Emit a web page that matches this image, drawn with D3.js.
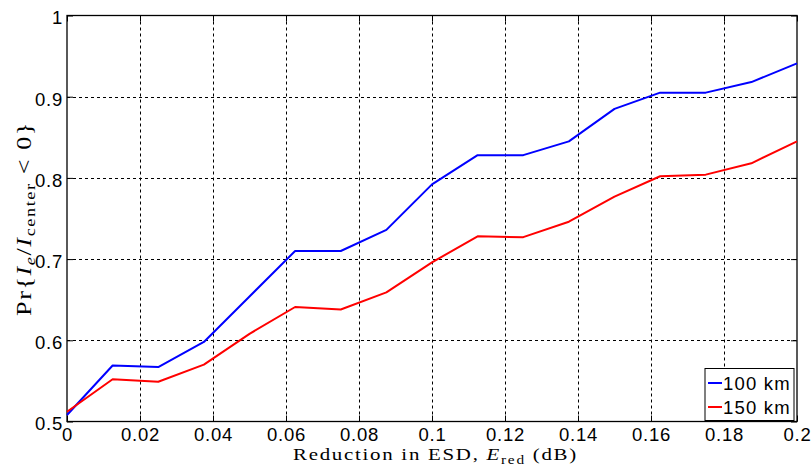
<!DOCTYPE html>
<html><head><meta charset="utf-8">
<script src="https://cdn.jsdelivr.net/npm/d3@7"></script>
<style>body{margin:0;background:#fff;} svg{display:block;}</style>
</head><body>
<svg id="c" width="812" height="470"></svg>
<script>
const xValues = [0, 0.0125, 0.025, 0.0375, 0.05, 0.0625, 0.075, 0.0875, 0.1, 0.1125, 0.125, 0.1375, 0.15, 0.1625, 0.175, 0.1875, 0.2];
const series100 = [0.508, 0.569, 0.567, 0.598, 0.654, 0.710, 0.710, 0.736, 0.792, 0.828, 0.828, 0.845, 0.885, 0.905, 0.905, 0.918, 0.941];
const series150 = [0.512, 0.552, 0.549, 0.570, 0.608, 0.641, 0.638, 0.659, 0.696, 0.728, 0.727, 0.746, 0.777, 0.802, 0.804, 0.818, 0.845];
const seriesNames = ["100 km", "150 km"];
const seriesColors = ["#0000ff", "#ff0000"];
const xTicks = [0, 0.02, 0.04, 0.06, 0.08, 0.1, 0.12, 0.14, 0.16, 0.18, 0.2];
const xTickLabels = ["0", "0.02", "0.04", "0.06", "0.08", "0.1", "0.12", "0.14", "0.16", "0.18", "0.2"];
const yTicks = [0.5, 0.6, 0.7, 0.8, 0.9, 1];
const yTickLabels = ["0.5", "0.6", "0.7", "0.8", "0.9", "1"];

const svg = d3.select("#c");
const L = 67, R = 797, T = 15.5, B = 421.5;
const x = d3.scaleLinear().domain([0, 0.2]).range([L, R]);
const y = d3.scaleLinear().domain([0.5, 1]).range([B, T]);
const tickFont = "Liberation Sans, Arial, sans-serif";
const serif = "Liberation Serif, DejaVu Serif, serif";
const tickSize = 18.5;

// grid
const g = svg.append("g");
g.selectAll(".vx").data(xTicks.slice(1, -1)).enter().append("line")
  .attr("x1", d => Math.round(x(d)) + 0.5).attr("x2", d => Math.round(x(d)) + 0.5)
  .attr("y1", T).attr("y2", B)
  .attr("stroke", "#000").attr("stroke-width", 1).attr("stroke-dasharray", "3,3");
g.selectAll(".hy").data(yTicks.slice(1, -1)).enter().append("line")
  .attr("y1", d => Math.round(y(d)) + 0.5).attr("y2", d => Math.round(y(d)) + 0.5)
  .attr("x1", L).attr("x2", R)
  .attr("stroke", "#000").attr("stroke-width", 1).attr("stroke-dasharray", "3,3");

// axes with MATLAB-style inward ticks
const xAxisB = d3.axisBottom(x).tickValues(xTicks).tickFormat((d, i) => xTickLabels[i]).tickSizeInner(-6).tickSizeOuter(0).tickPadding(6);
const xAxisT = d3.axisTop(x).tickValues(xTicks).tickFormat("").tickSizeInner(-6).tickSizeOuter(0);
const yAxisL = d3.axisLeft(y).tickValues(yTicks).tickFormat((d, i) => yTickLabels[i]).tickSizeInner(-6).tickSizeOuter(0).tickPadding(4);
const yAxisR = d3.axisRight(y).tickValues(yTicks).tickFormat("").tickSizeInner(-6).tickSizeOuter(0);

function styleAxis(sel) {
  sel.select(".domain").remove();
  sel.selectAll("line").attr("stroke", "#000");
  sel.selectAll("text").attr("font-family", tickFont).attr("font-size", tickSize)
    .attr("letter-spacing", 0.8).attr("fill", "#000");
}
svg.append("g").attr("transform", `translate(0,${B})`).call(xAxisB).call(styleAxis);
svg.append("g").attr("transform", `translate(0,${T})`).call(xAxisT).call(styleAxis);
svg.append("g").attr("transform", `translate(${L},0)`).call(yAxisL).call(styleAxis)
  .selectAll("text").attr("dy", "0.45em");
svg.append("g").attr("transform", `translate(${R},0)`).call(yAxisR).call(styleAxis);

// box
svg.append("rect").attr("x", L).attr("y", T).attr("width", R - L).attr("height", B - T)
  .attr("fill", "none").attr("stroke", "#000").attr("stroke-width", 1.3);

// lines
const line = d3.line().x((d, i) => x(xValues[i])).y(d => y(d));
[series100, series150].forEach((s, k) => {
  svg.append("path").datum(s).attr("d", line).attr("fill", "none")
    .attr("stroke", seriesColors[k]).attr("stroke-width", 2).attr("stroke-linejoin", "round");
});

// legend
const lg = svg.append("g");
lg.append("rect").attr("x", 705).attr("y", 368.5).attr("width", 89).attr("height", 52)
  .attr("fill", "#fff").attr("stroke", "#000").attr("stroke-width", 1);
seriesNames.forEach((n, k) => {
  const yy = 383 + k * 24;
  lg.append("line").attr("x1", 708).attr("x2", 722).attr("y1", yy).attr("y2", yy)
    .attr("stroke", seriesColors[k]).attr("stroke-width", 2);
  lg.append("text").attr("x", 723).attr("y", yy + 6.5).text(n)
    .attr("font-family", tickFont).attr("font-size", tickSize).attr("letter-spacing", 1.2).attr("fill", "#000");
});

// x label
const xlg = svg.append("g");
const xl = xlg.append("text").attr("x", 0).attr("y", 0).attr("text-anchor", "middle")
  .attr("font-family", serif).attr("font-size", 17).attr("letter-spacing", 1.4).attr("fill", "#000");
xl.append("tspan").text("Reduction in ESD, ");
xl.append("tspan").attr("font-style", "italic").text("E");
xl.append("tspan").attr("font-size", 12.5).attr("dy", 4).text("red");
xl.append("tspan").attr("dy", -4).text(" (dB)");
const xw = xl.node().getBBox().width;
xlg.attr("transform", `translate(435.5,459.5) scale(${285 / xw},1)`);

// y label
const ylg = svg.append("g");
const yl = ylg.append("text").attr("x", 0).attr("y", 0).attr("text-anchor", "middle")
  .attr("font-family", serif).attr("font-size", 20).attr("letter-spacing", 1.2).attr("fill", "#000");
yl.append("tspan").text("Pr{");
yl.append("tspan").attr("font-style", "italic").text("I");
yl.append("tspan").attr("font-style", "italic").attr("font-size", 14).attr("dy", 4).text("e");
yl.append("tspan").attr("dy", -4).text("/");
yl.append("tspan").attr("font-style", "italic").text("I");
yl.append("tspan").attr("font-size", 14).attr("dy", 4).text("center");
yl.append("tspan").attr("dy", -4).text(" < 0}");
const yw = yl.node().getBBox().width;
ylg.attr("transform", `translate(31,218.5) rotate(-90) scale(${195 / yw},1)`);
</script>
</body></html>
